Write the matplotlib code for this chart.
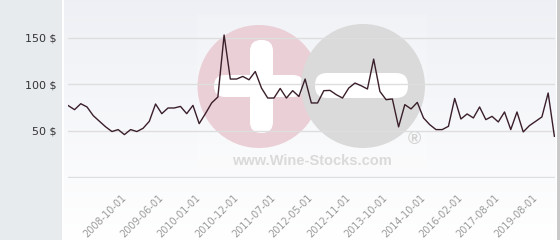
import numpy as np
import matplotlib
matplotlib.use("Agg")
import matplotlib.pyplot as plt
from matplotlib.patches import Rectangle, Circle, FancyBboxPatch

# データ
prices = [77.1, 72.8, 79.2, 75.7, 66.4, 60.3, 54.3, 49.3, 51.4, 46.0,
          51.4, 49.3, 52.8, 60.3, 78.9, 68.5, 74.6, 74.6, 76.3, 68.5,
          77.4, 57.8, 68.5, 80.0, 86.4, 153.0, 105.7, 105.7, 108.5, 104.9,
          113.8, 96.0, 85.3, 85.3, 95.6, 85.3, 93.2, 87.0, 105.7, 80.0,
          80.0, 93.2, 93.5, 88.9, 85.3, 96.0, 101.4, 98.5, 95.0, 127.1,
          92.4, 83.5, 84.3, 54.3, 78.2, 73.6, 80.6, 63.9, 56.7, 51.4,
          51.4, 54.9, 84.9, 62.8, 68.2, 63.9, 75.7, 62.1, 65.6, 59.6,
          70.3, 51.4, 70.3, 48.9, 55.7, 60.3, 65.0, 90.7, 44.2]
date_labels = ["2008-10-01", "2009-06-01", "2010-01-01", "2010-12-01",
               "2011-07-01", "2012-05-01", "2012-11-01", "2013-10-01",
               "2014-10-01", "2016-02-01", "2017-08-01", "2019-08-01"]
y_values = [0, 50, 100, 150]
y_labels = ["", "50 $", "100 $", "150 $"]

W, H = 560, 240
fig = plt.figure(figsize=(W / 100, H / 100), dpi=100)
fig.patch.set_facecolor("white")

# 左の灰色パネル
fig.patches.append(Rectangle((0, 0), 62 / W, 1, transform=fig.transFigure,
                             facecolor="#e8ebee", edgecolor="none", zorder=0))
fig.patches.append(Rectangle((557 / W, 0), 3 / W, 1, transform=fig.transFigure,
                             facecolor="#c9c9c9", edgecolor="none", zorder=0))

# 背景グラデーション
bg = fig.add_axes([64 / W, 0, (556 - 64) / W, 1], zorder=0)
grad = np.linspace(0, 1, 256).reshape(-1, 1)
top = np.array([0.933, 0.941, 0.961])
bot = np.array([1.0, 1.0, 1.0])
img = top + (bot - top) * grad[:, :, None]
bg.imshow(img, aspect="auto", extent=[0, 1, 0, 1], origin="upper")
bg.axis("off")

# ウォーターマーク（ピクセル座標）
wm = fig.add_axes([0, 0, 1, 1], zorder=1)
wm.set_xlim(0, W)
wm.set_ylim(H, 0)
wm.axis("off")
wm.patch.set_alpha(0)
wm.add_patch(Rectangle((197, 14), 230, 160, facecolor="white", alpha=0.2,
                       edgecolor="none"))
wm.add_patch(Circle((259, 86.5), 61.5, facecolor="#eacfd6", edgecolor="none"))
wm.add_patch(FancyBboxPatch((250, 40), 23, 93, boxstyle="round,pad=0,rounding_size=11",
                            facecolor="white", edgecolor="none"))
wm.add_patch(FancyBboxPatch((214, 75), 90, 22, boxstyle="round,pad=0,rounding_size=11",
                            facecolor="white", edgecolor="none"))
wm.add_patch(Circle((363, 86), 62, facecolor="#dadadb", edgecolor="none"))
wm.add_patch(FancyBboxPatch((315, 73), 93, 25, boxstyle="round,pad=0,rounding_size=12",
                            facecolor="white", edgecolor="none"))
wm.text(312, 161, "www.Wine-Stocks.com", ha="center", va="center",
        fontsize=10.5, fontweight="bold", color="#dadada",
        family="Liberation Sans")
wm.text(414, 139, "®", ha="center", va="center", fontsize=13,
        fontweight="bold", color="#d2d2d2", family="Liberation Sans")

# メインのグラフ
ax = fig.add_axes([68 / W, 62 / H, (555 - 68) / W, 178 / H], zorder=2)
ax.patch.set_alpha(0)
x = np.arange(len(prices))
ax.plot(x, prices, color="#3a1f2b", linewidth=1.0, zorder=3)

ax.set_xlim(-0.05, 78.1)
ax.set_ylim(-0.6, 190.6)
ax.set_yticks(y_values)
ax.set_yticklabels(y_labels, fontsize=8, color="#333333")
ax.set_xticks(np.arange(9, len(prices), 6))
ax.set_xticklabels(date_labels, fontsize=7, color="#9a9a9a", rotation=45,
                   ha="right", va="center", rotation_mode="anchor")
ax.tick_params(axis="y", length=0, pad=8)
ax.tick_params(axis="x", length=0, pad=13)
ax.grid(axis="y", color="#dedede", linewidth=1)
ax.set_axisbelow(True)
for s in ax.spines.values():
    s.set_visible(False)

plt.savefig("out.png", dpi=100)
